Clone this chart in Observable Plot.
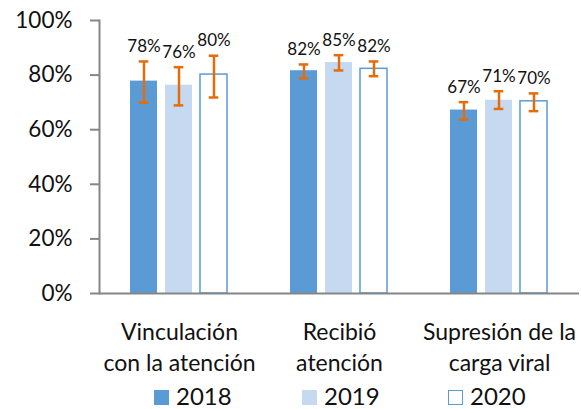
<!DOCTYPE html>
<html>
<head>
<meta charset="utf-8">
<script src="https://cdn.jsdelivr.net/npm/d3@7"></script>
<script src="https://cdn.jsdelivr.net/npm/@observablehq/plot@0.6"></script>
<style>
  html, body { margin: 0; padding: 0; background: #fff; overflow: hidden; }
  #chart { width: 581px; height: 409px; position: relative; font-family: Lato, sans-serif; }
  .legend { position: absolute; left: 0; top: 376px; width: 581px; height: 24px; font-size: 24px; line-height: 24px; padding-top: 8px; color: #111; }
  .legend .item { position: absolute; white-space: nowrap; }
  .legend .sw { display: inline-block; width: 15px; height: 15px; box-sizing: border-box; vertical-align: baseline; margin-right: 7px; }
</style>
</head>
<body>
<div id="chart"></div>
<script>
const categories = ["Vinculación\ncon la atención", "Recibió\natención", "Supresión de la\ncarga viral"];
const years = ["2018", "2019", "2020"];
const values2018 = [77.8, 81.6, 67.2];
const values2019 = [76.3, 84.6, 70.8];
const values2020 = [80.2, 82.3, 70.4];
const lower2018 = [69.9, 78.8, 63.7];
const upper2018 = [85.0, 83.9, 70.1];
const lower2019 = [68.9, 81.7, 67.6];
const upper2019 = [82.9, 87.3, 74.1];
const lower2020 = [71.8, 79.6, 66.8];
const upper2020 = [87.1, 85.0, 73.3];
const yTicks = [0, 20, 40, 60, 80, 100];

const values = [values2018, values2019, values2020];
const lows = [lower2018, lower2019, lower2020];
const highs = [upper2018, upper2019, upper2020];

const rows = [];
categories.forEach((c, i) => years.forEach((y, j) => rows.push({
  category: c, year: y, value: values[j][i], lo: lows[j][i], hi: highs[j][i]
})));

const blue = "#5B9BD5", light = "#C5D9F1", orange = "#E46C0A", axisGray = "#868686";

const chart = Plot.plot({
  width: 581,
  height: 376,
  marginLeft: 98,
  marginRight: 1,
  marginTop: 20,
  marginBottom: 83,
  style: { fontFamily: "Lato, sans-serif", background: "white" },
  fx: { domain: categories, padding: 0, label: null },
  x: { domain: years, paddingInner: 8 / 36, paddingOuter: 0.843, axis: null },
  y: { domain: [0, 100], axis: null },
  marks: [
    Plot.barY(rows.filter(d => d.year === "2018"), { fx: "category", x: "year", y: "value", fill: blue }),
    Plot.barY(rows.filter(d => d.year === "2019"), { fx: "category", x: "year", y: "value", fill: light }),
    Plot.barY(rows.filter(d => d.year === "2020"), { fx: "category", x: "year", y: "value", fill: "white", stroke: blue, strokeWidth: 1.5 }),
    Plot.ruleY([0], { stroke: axisGray, strokeWidth: 2 }),
    Plot.frame({ anchor: "left", facetAnchor: "left", stroke: axisGray, strokeWidth: 2 }),
    Plot.axisY({ ticks: yTicks, tickFormat: d => d + "%", tickSize: 9, tickPadding: 18, fontSize: 22.5, stroke: axisGray, strokeWidth: 2, fill: "#111", label: null }),
    Plot.axisFx({ anchor: "bottom", tickSize: 0, tickPadding: 24, fontSize: 23, lineHeight: 1.35, fill: "#111", label: null }),
    Plot.ruleX(rows, { fx: "category", x: "year", y1: "lo", y2: "hi", stroke: orange, strokeWidth: 2.5 }),
    Plot.tickY(rows, { fx: "category", x: "year", y: "hi", insetLeft: 8.7, insetRight: 8.7, stroke: orange, strokeWidth: 2.5 }),
    Plot.tickY(rows, { fx: "category", x: "year", y: "lo", insetLeft: 8.7, insetRight: 8.7, stroke: orange, strokeWidth: 2.5 }),
    Plot.text(rows, { fx: "category", x: "year", y: "hi", text: d => Math.round(d.value) + "%", dy: -15, fontSize: 17, fill: "#111" })
  ]
});

const root = document.getElementById("chart");
root.appendChild(chart);

const legendItems = [
  { label: years[0], fill: blue, stroke: blue, left: 154 },
  { label: years[1], fill: light, stroke: light, left: 302 },
  { label: years[2], fill: "white", stroke: blue, left: 448 }
];
const legend = document.createElement("div");
legend.className = "legend";
legendItems.forEach(it => {
  const item = document.createElement("span");
  item.className = "item";
  item.style.left = it.left + "px";
  const sw = document.createElement("span");
  sw.className = "sw";
  sw.style.background = it.fill;
  sw.style.border = "1.5px solid " + it.stroke;
  item.appendChild(sw);
  item.appendChild(document.createTextNode(it.label));
  legend.appendChild(item);
});
root.appendChild(legend);
</script>
</body>
</html>
